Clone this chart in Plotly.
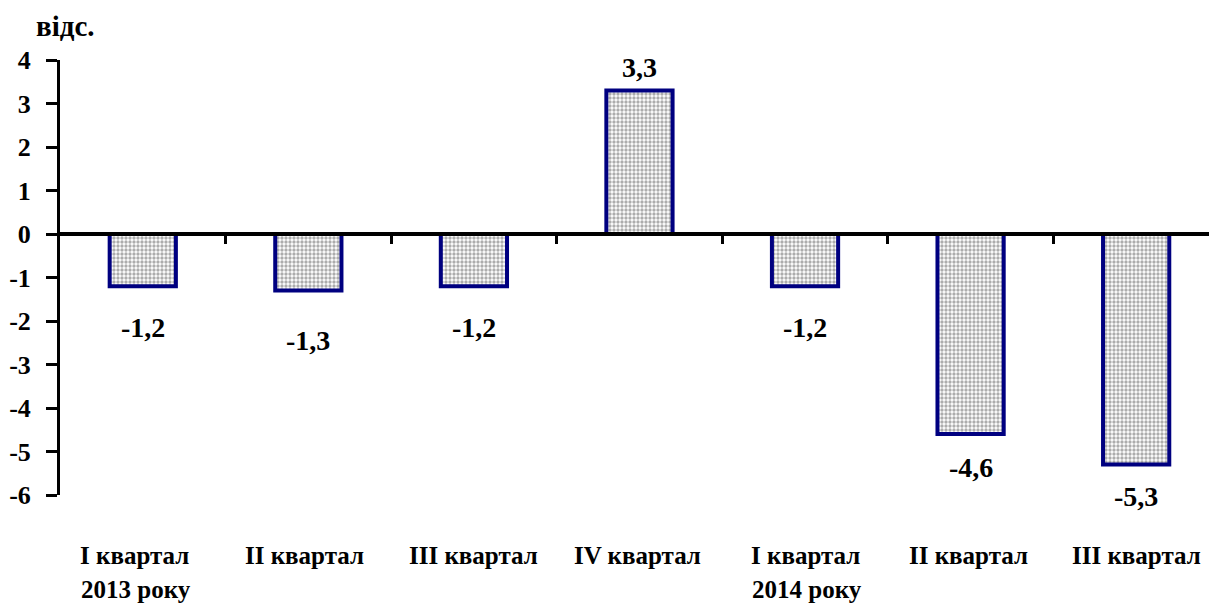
import plotly.graph_objects as go

cat_line1 = ["I квартал", "II квартал", "III квартал", "IV квартал",
             "I квартал", "II квартал", "III квартал"]
cat_line2 = ["2013 року", "", "", "", "2014 року", "", ""]
values = [-1.2, -1.3, -1.2, 3.3, -1.2, -4.6, -5.3]
value_labels = ["-1,2", "-1,3", "-1,2", "3,3", "-1,2", "-4,6", "-5,3"]
y_ticks = [4, 3, 2, 1, 0, -1, -2, -3, -4, -5, -6]

# label placement offsets (px), as in the original layout
label_yshift = [-24, -32, -24, 5, -24, -16, -14]
cat_xshift = [-8, -4, 0, -2, 0, -2, 0]

FONT = "Times New Roman, Liberation Serif, DejaVu Serif, serif"
xpos = list(range(len(values)))

fig = go.Figure()
fig.add_trace(go.Bar(
    x=xpos, y=values, width=0.4,
    marker=dict(
        color="white",
        line=dict(color="#000080", width=4),
        pattern=dict(shape=".", fgcolor="#5a5a5a", bgcolor="white", size=4, solidity=0.55, fillmode="overlay"),
    ),
    showlegend=False, hoverinfo="skip",
))

# axis drawn along y = 0 with ticks between categories
fig.add_trace(go.Scatter(x=[None], y=[None], xaxis="x2", showlegend=False, hoverinfo="skip"))

for i, (v, t) in enumerate(zip(values, value_labels)):
    fig.add_annotation(
        x=i, y=v, xref="x", yref="y", text="<b>%s</b>" % t, showarrow=False,
        yanchor="bottom" if v > 0 else "top",
        yshift=label_yshift[i],
        font=dict(family=FONT, size=28, color="black"),
    )

for i, (c1, c2) in enumerate(zip(cat_line1, cat_line2)):
    fig.add_annotation(
        x=i, y=-0.14, xref="x", yref="paper", text="<b>%s</b>" % c1, showarrow=False,
        yanchor="middle", xanchor="center", xshift=cat_xshift[i],
        font=dict(family=FONT, size=25, color="black"),
    )
    if c2:
        fig.add_annotation(
            x=i - 0.335, y=-0.218, xref="x", yref="paper", text="<b>%s</b>" % c2, showarrow=False,
            yanchor="middle", xanchor="left", xshift=cat_xshift[i],
            font=dict(family=FONT, size=25, color="black"),
        )

fig.add_annotation(
    x=-0.023, y=1.078, xref="paper", yref="paper", text="<b>відс.</b>", showarrow=False,
    xanchor="left", yanchor="middle",
    font=dict(family=FONT, size=29, color="black"),
)

fig.update_layout(
    width=1209, height=609,
    font=dict(family=FONT),
    margin=dict(l=60, r=0, t=60, b=114, autoexpand=False),
    paper_bgcolor="white", plot_bgcolor="white",
    xaxis=dict(range=[-0.5, 6.44], showticklabels=False, showline=False, showgrid=False,
               zeroline=False, ticks="", automargin=False),
    xaxis2=dict(range=[-0.5, 6.44], overlaying="x", anchor="free", position=0.6, side="bottom",
                showline=True, linecolor="black", linewidth=4, showgrid=False, zeroline=False,
                tickmode="array", tickvals=[0.5, 1.5, 2.5, 3.5, 4.5, 5.5], ticks="outside",
                ticklen=8, tickwidth=3, tickcolor="black", showticklabels=False, automargin=False),
    yaxis=dict(range=[-6, 4], tickmode="array", tickvals=y_ticks,
               ticktext=["<b>%d</b>" % t for t in y_ticks],
               showline=True, linecolor="black", linewidth=3, ticks="outside", ticklen=11,
               ticklabelstandoff=10,
               tickwidth=3, tickcolor="black", showgrid=False, zeroline=False, automargin=False,
               tickfont=dict(family=FONT, size=26, color="black")),
)

fig.write_html("out.html", config={"displayModeBar": False},
               post_script="document.body.style.margin='0';")
